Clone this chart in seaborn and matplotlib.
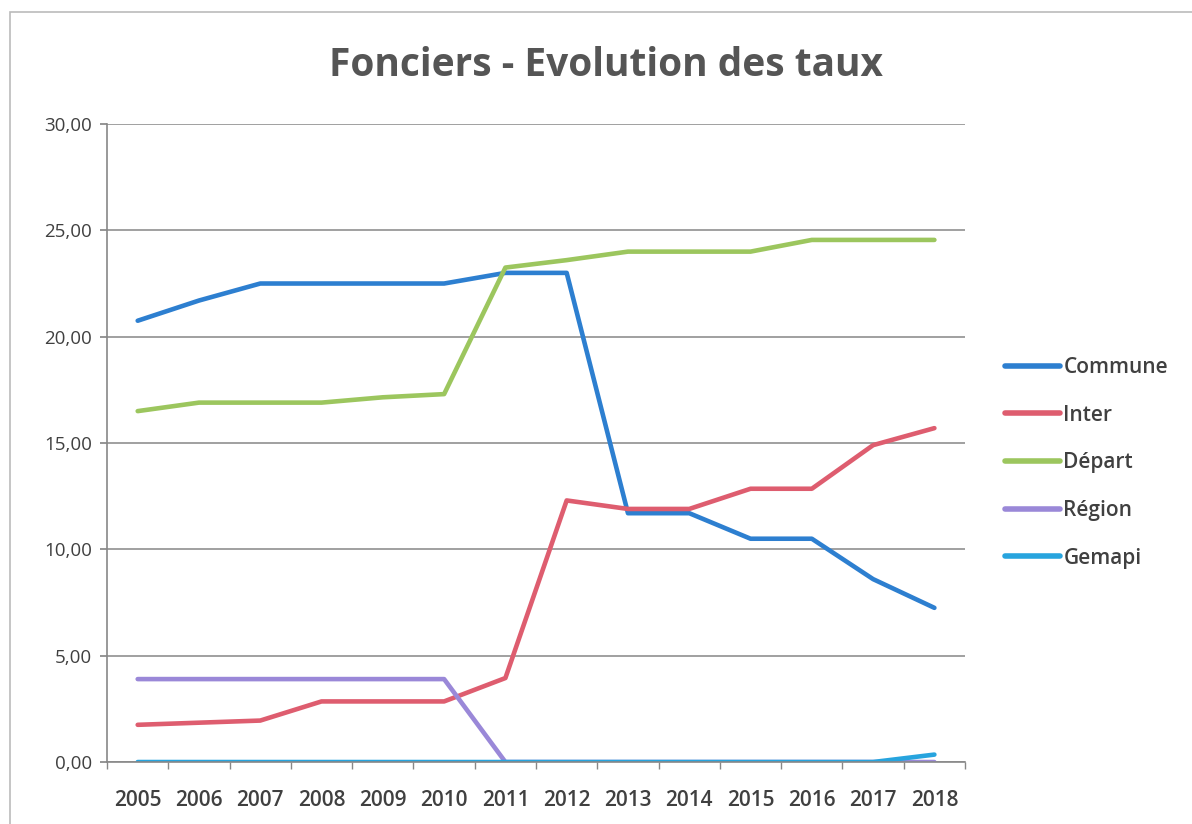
import pandas as pd
import matplotlib
matplotlib.use("Agg")
import matplotlib.pyplot as plt
from matplotlib.patches import Rectangle
import seaborn as sns

years = ["2005", "2006", "2007", "2008", "2009", "2010", "2011",
         "2012", "2013", "2014", "2015", "2016", "2017", "2018"]
commune = [20.75, 21.7, 22.5, 22.5, 22.5, 22.5, 23.0, 23.0, 11.7, 11.7, 10.5, 10.5, 8.6, 7.25]
inter = [1.75, 1.85, 1.95, 2.85, 2.85, 2.85, 3.95, 12.3, 11.9, 11.9, 12.85, 12.85, 14.9, 15.7]
depart = [16.5, 16.9, 16.9, 16.9, 17.15, 17.3, 23.25, 23.6, 24.0, 24.0, 24.0, 24.55, 24.55, 24.55]
region = [3.9, 3.9, 3.9, 3.9, 3.9, 3.9, 0.0, 0.0, 0.0, 0.0, 0.0, 0.0, 0.0, 0.0]
gemapi = [0.0, 0.0, 0.0, 0.0, 0.0, 0.0, 0.0, 0.0, 0.0, 0.0, 0.0, 0.0, 0.0, 0.35]

series = {"Commune": commune, "Inter": inter, "Départ": depart,
          "Région": region, "Gemapi": gemapi}
colors = {"Commune": "#2d7fd0", "Inter": "#de5d6f", "Départ": "#9cc65e",
          "Région": "#9a88d8", "Gemapi": "#27a4de"}

rows = []
for name, vals in series.items():
    for i, v in enumerate(vals):
        rows.append({"idx": i, "taux": v, "serie": name})
df = pd.DataFrame(rows)

sns.set_theme(style="white")
plt.rcParams['font.family'] = ['Open Sans', 'DejaVu Sans']
text_col = "#404040"

fig = plt.figure(figsize=(11.92, 8.24), dpi=100)
fig.patches.append(Rectangle((0.008, -0.01), 1.0, 0.995, transform=fig.transFigure,
                             fill=False, edgecolor="#bbbbbb", linewidth=1.2))
ax = fig.add_axes([0.0898, 0.0752, 0.7198, 0.7743])

sns.lineplot(data=df, x="idx", y="taux", hue="serie", palette=colors,
             hue_order=list(series.keys()), linewidth=3.3, ax=ax, legend=True)

ax.set_xlim(-0.5, len(years) - 0.5)
ax.set_ylim(0, 30)
ax.set_yticks([0, 5, 10, 15, 20, 25, 30])
ax.set_yticklabels([f"{v:.2f}".replace(".", ",") for v in [0, 5, 10, 15, 20, 25, 30]],
                   fontsize=13.5, color=text_col)
ax.set_xticks(range(len(years)))
ax.set_xticklabels(years, fontsize=15, fontweight="semibold", color=text_col)
ax.set_xticks([i - 0.5 for i in range(len(years) + 1)], minor=True)
ax.tick_params(axis="x", which="major", length=0, pad=20)
ax.tick_params(axis="x", which="minor", length=5, color="#888888", bottom=True)
ax.tick_params(axis="y", length=5, color="#888888", left=True, pad=6)
ax.set_xlabel("")
ax.set_ylabel("")

ax.grid(axis="y", color="#999999", linewidth=1.3)
ax.set_axisbelow(True)
for side in ["top", "right"]:
    ax.spines[side].set_visible(False)
ax.spines["left"].set_color("#888888")
ax.spines["bottom"].set_color("#888888")
ax.spines["left"].set_linewidth(1.2)
ax.spines["bottom"].set_linewidth(1.2)

leg = ax.legend(loc="center left", bbox_to_anchor=(1.037, 0.469), frameon=False,
                borderaxespad=0, fontsize=15, labelspacing=1.28,
                handlelength=2.65, handletextpad=0.15)
for t in leg.get_texts():
    t.set_color(text_col)
    t.set_fontweight("semibold")
for h in leg.get_lines():
    h.set_linewidth(4)

fig.text(0.508, 0.921, "Fonciers - Evolution des taux", ha="center", va="center",
         fontsize=28, fontweight="bold", color="#555555")

fig.savefig("out.png", dpi=100)
